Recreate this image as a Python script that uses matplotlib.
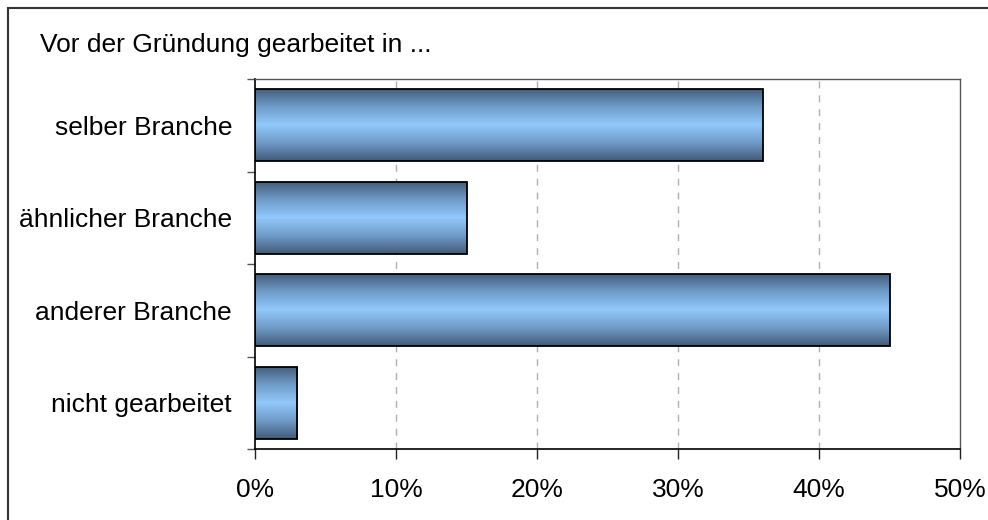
import matplotlib
matplotlib.use("Agg")
import matplotlib.pyplot as plt
import numpy as np
from matplotlib.colors import LinearSegmentedColormap
from matplotlib.patches import Rectangle

categories = ["selber Branche", "ähnlicher Branche", "anderer Branche", "nicht gearbeitet"]
values = [36, 15, 45, 3]
xticks = [0, 10, 20, 30, 40, 50]
xticklabels = ["0%", "10%", "20%", "30%", "40%", "50%"]
title = "Vor der Gründung gearbeitet in ..."

plt.rcParams['font.family'] = ['Liberation Sans', 'DejaVu Sans']

W, H = 988, 520
fig = plt.figure(figsize=(W / 100, H / 100), dpi=100)
ax = fig.add_axes([255 / W, 1 - 449 / H, (960 - 255) / W, (449 - 79) / H])

cmap = LinearSegmentedColormap.from_list(
    "bar", ["#425a78", "#6f9bc8", "#92c8fb", "#6f9bc8", "#425a78"])
grad = np.linspace(0, 1, 256).reshape(-1, 1)

y = np.arange(len(categories))
height = 0.78
bars = ax.barh(y, values, height=height, color="none", edgecolor="black",
               linewidth=1.3, zorder=3)
for b in bars:
    x0, y0 = b.get_x(), b.get_y()
    w, h = b.get_width(), b.get_height()
    im = ax.imshow(grad, extent=[x0, x0 + w, y0, y0 + h], cmap=cmap,
                   aspect="auto", origin="lower", zorder=2, interpolation="bilinear")
    im.set_clip_path(b)

ax.set_xlim(0, 50)
ax.set_ylim(len(categories) - 0.5, -0.5)
ax.set_aspect("auto")

ax.set_xticks(xticks)
ax.set_xticklabels(xticklabels, fontsize=19)
ax.set_yticks(y)
ax.set_yticklabels(categories, fontsize=19)
ax.tick_params(axis="y", length=0, pad=16.5)
ax.set_yticks(np.arange(len(categories) + 1) - 0.5, minor=True)
ax.tick_params(axis="y", which="minor", length=6, width=1, color="#555555", direction="out")
ax.tick_params(axis="x", length=7, width=1, color="#222222", direction="out", pad=14)

for xv in xticks[1:-1]:
    ax.axvline(xv, color="#b0b0b0", linestyle=(0, (5, 5)), linewidth=1, zorder=1)

for s in ["top", "right"]:
    ax.spines[s].set_color("#555555")
    ax.spines[s].set_linewidth(1)
for s in ["left", "bottom"]:
    ax.spines[s].set_color("black")
    ax.spines[s].set_linewidth(1.2)

fig.text(40 / W, 1 - 52 / H, title, fontsize=19, ha="left", va="baseline")

fig.add_artist(Rectangle((8 / W, -0.05), 1.1, 1 - 8 / H + 0.05, transform=fig.transFigure,
                         fill=False, edgecolor="#333333", linewidth=1.5))

fig.savefig("out.png", dpi=100)
